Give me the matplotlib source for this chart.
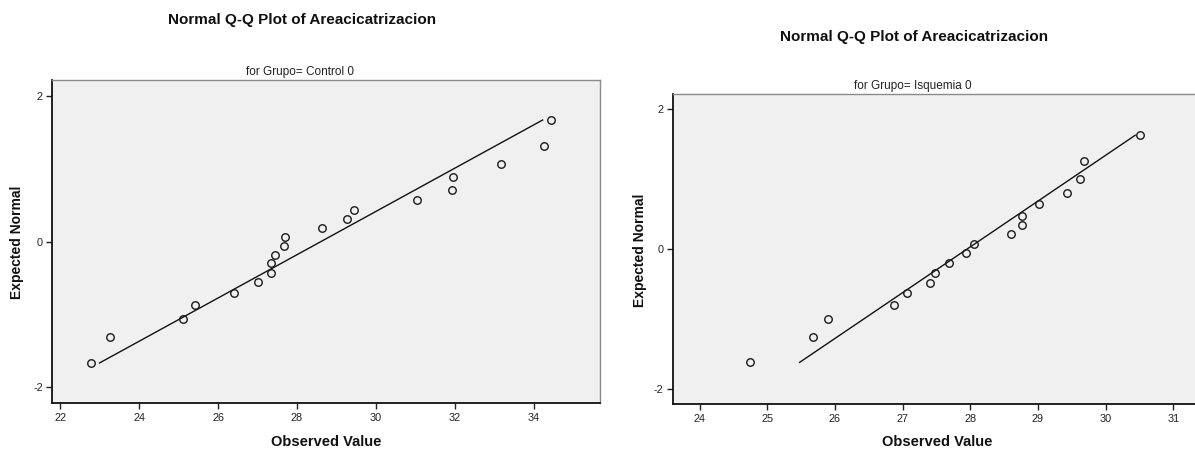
import matplotlib
matplotlib.use("Agg")
import matplotlib.pyplot as plt
import numpy as np

plt.rcParams['font.family'] = ['Liberation Sans', 'DejaVu Sans']
plt.rcParams['axes.unicode_minus'] = False

# ---- data ----
control_observed = [22.79, 23.27, 25.10, 25.41, 26.40, 27.00, 27.33, 27.35, 27.43, 27.68,
                    27.69, 28.64, 29.27, 29.45, 31.03, 31.93, 31.95, 33.18, 34.25, 34.45]
control_expected = [-1.67, -1.31, -1.07, -0.87, -0.71, -0.56, -0.43, -0.30, -0.18, -0.06,
                    0.06, 0.18, 0.31, 0.43, 0.57, 0.71, 0.88, 1.07, 1.31, 1.67]
control_mean = 28.61
control_sd = 3.363

isq_observed = [24.75, 25.68, 25.89, 26.87, 27.07, 27.41, 27.48, 27.69, 27.93, 28.06,
                28.60, 28.77, 28.77, 29.01, 29.43, 29.62, 29.68, 30.51]
isq_expected = [-1.62, -1.25, -1.00, -0.80, -0.63, -0.48, -0.34, -0.195, -0.06, 0.07,
                0.21, 0.34, 0.48, 0.64, 0.81, 1.01, 1.26, 1.63]
isq_mean = 27.95
isq_sd = 1.526

control_xticks = [22, 24, 26, 28, 30, 32, 34]
isq_xticks = [24, 25, 26, 27, 28, 29, 30, 31]
yticks = [-2, 0, 2]

W, H = 1195, 450
fig = plt.figure(figsize=(W / 100, H / 100), dpi=100)
fig.patch.set_facecolor('white')

def px_axes(x0, y0, x1, y1):
    return fig.add_axes([x0 / W, 1 - y1 / H, (x1 - x0) / W, (y1 - y0) / H])

def style(ax, xlim, xticks, show_right=True):
    ax.set_facecolor('#f0f0f0')
    ax.set_xlim(*xlim)
    ax.set_ylim(-2.22, 2.22)
    ax.set_xticks(xticks)
    ax.set_yticks(yticks)
    ax.tick_params(direction='out', length=4, width=1, labelsize=7.8, colors='#222222', pad=3)
    for s in ['left', 'bottom']:
        ax.spines[s].set_color('#111111')
        ax.spines[s].set_linewidth(1.3)
    ax.spines['top'].set_color('#8a8a8a')
    ax.spines['top'].set_linewidth(1.0)
    ax.spines['right'].set_color('#8a8a8a')
    ax.spines['right'].set_linewidth(1.0)
    ax.spines['right'].set_visible(show_right)

def qq(ax, obs, exp, mean, sd):
    e = np.array([min(exp), max(exp)])
    ax.plot(mean + sd * e, e, color='#111111', lw=1.0, zorder=2)
    ax.plot(obs, exp, linestyle='none', marker='o', markersize=5.4,
            markerfacecolor='none', markeredgecolor='#1a1a1a', markeredgewidth=1.0, zorder=3)

# left panel
ax1 = px_axes(52.4, 80, 600, 403)
style(ax1, (21.80, 35.68), control_xticks, show_right=True)
qq(ax1, control_observed, control_expected, control_mean, control_sd)

# right panel
ax2 = px_axes(673.2, 94, 1195, 404.3)
style(ax2, (23.61, 31.32), isq_xticks, show_right=False)
qq(ax2, isq_observed, isq_expected, isq_mean, isq_sd)

def ftext(x, y, s, **kw):
    fig.text(x / W, 1 - y / H, s, ha='center', va='center', **kw)

ftext(302, 20, 'Normal Q-Q Plot of Areacicatrizacion', fontsize=11, fontweight='bold', color='#111111')
ftext(914, 37, 'Normal Q-Q Plot of Areacicatrizacion', fontsize=11, fontweight='bold', color='#111111')
ftext(300, 72.5, 'for Grupo= Control 0', fontsize=8.5, color='#222222')
ftext(913, 86, 'for Grupo= Isquemia 0', fontsize=8.5, color='#222222')
ftext(17, 242, 'Expected Normal', fontsize=10, fontweight='bold', rotation=90, color='#111111')
ftext(640, 250, 'Expected Normal', fontsize=10, fontweight='bold', rotation=90, color='#111111')
ftext(326, 442, 'Observed Value', fontsize=10.5, fontweight='bold', color='#111111')
ftext(937, 442, 'Observed Value', fontsize=10.5, fontweight='bold', color='#111111')

fig.savefig('out.png', dpi=100, facecolor='white')
